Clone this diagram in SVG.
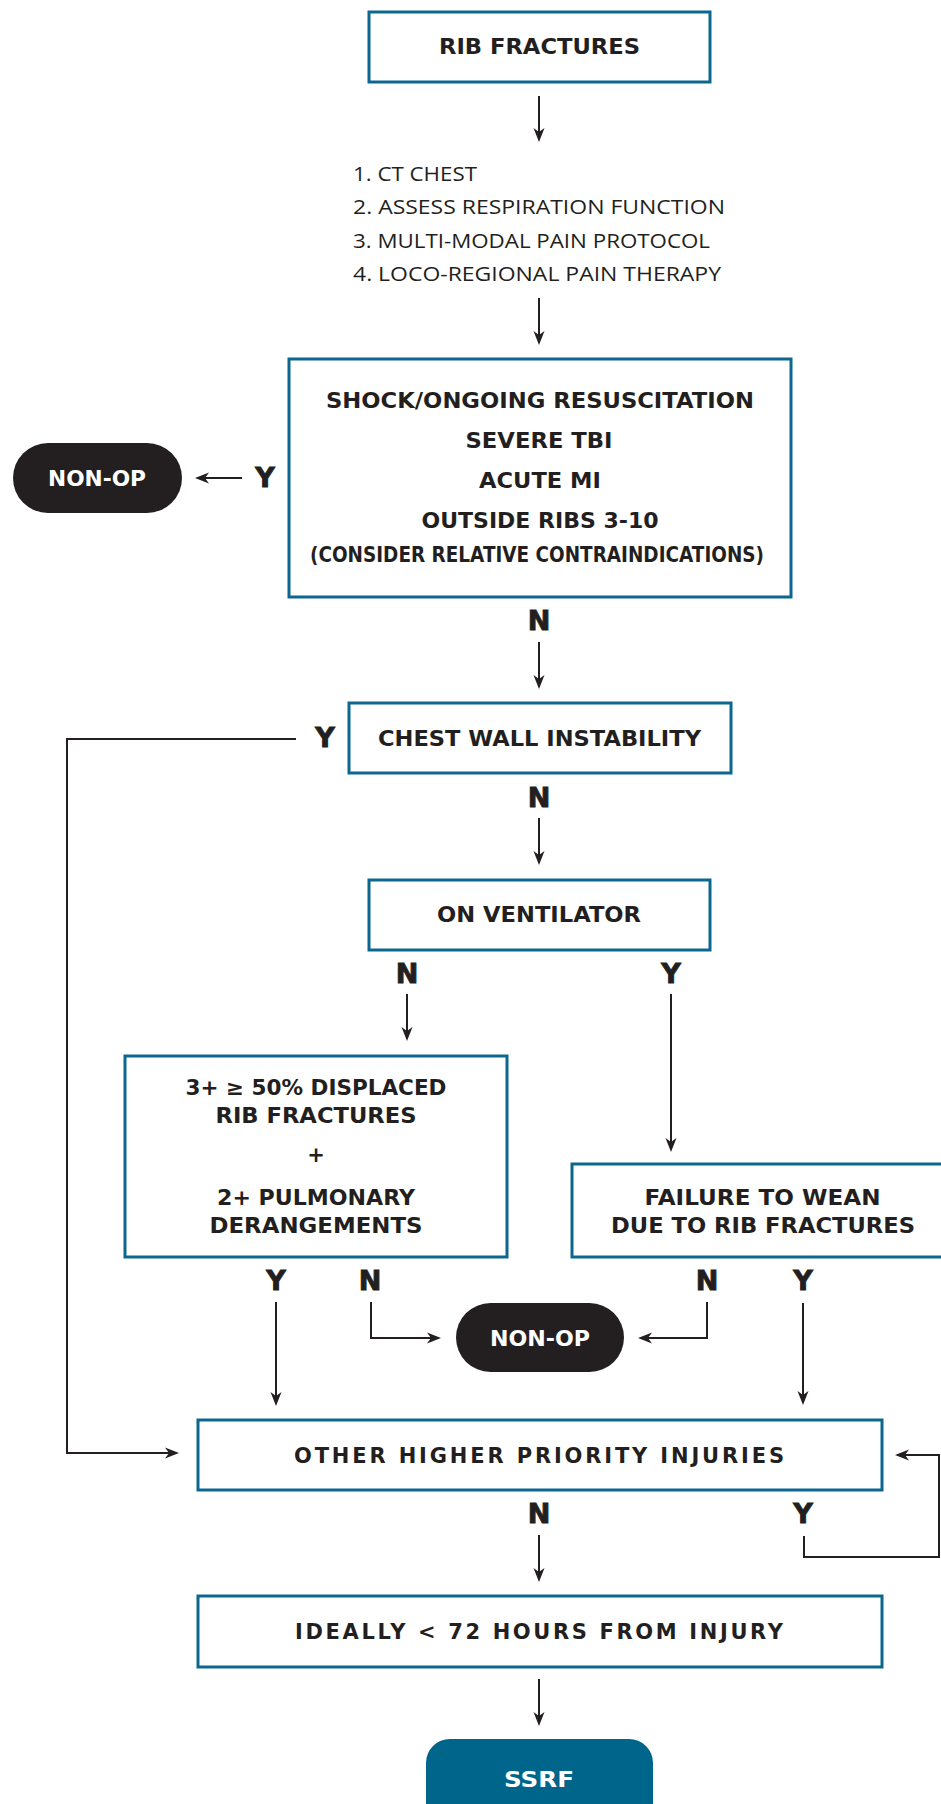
<svg xmlns="http://www.w3.org/2000/svg" width="941" height="1804" viewBox="0 0 941 1804">
<style>
.box{fill:#fff;stroke:#0b6790;stroke-width:3}
.pill{fill:#231f20}
.t{font-family:"DejaVu Sans","Liberation Sans",sans-serif;font-weight:bold;font-size:21px;fill:#231f20;text-anchor:middle}
.w{fill:#fff}
.l{font-family:"Open Sans","Liberation Sans",sans-serif;font-weight:400;font-size:20px;fill:#231f20}
.yn{font-family:"DejaVu Sans","Liberation Sans",sans-serif;font-weight:900;font-size:27px;fill:#231f20;stroke:#231f20;stroke-width:0.9;text-anchor:middle}
.c{fill:none;stroke:#231f20;stroke-width:2}
</style>
<defs>
<marker id="ah" markerUnits="userSpaceOnUse" viewBox="-7 -6 16 12" markerWidth="16" markerHeight="12" refX="0" refY="0" orient="auto">
<path d="M8,0 L-6,-5.5 L-2,0 L-6,5.5 Z" fill="#231f20"/>
</marker>
</defs>
<rect width="941" height="1804" fill="#fff"/>
<g id="connectors">
<path class="c" marker-end="url(#ah)" d="M539,96 V134"/>
<path class="c" marker-end="url(#ah)" d="M539,298 V337"/>
<path class="c" marker-end="url(#ah)" d="M242,478 H203"/>
<path class="c" marker-end="url(#ah)" d="M539,642 V681"/>
<path class="c" marker-end="url(#ah)" d="M539,818 V857"/>
<path class="c" marker-end="url(#ah)" d="M407,994 V1033"/>
<path class="c" marker-end="url(#ah)" d="M671,994 V1144"/>
<path class="c" marker-end="url(#ah)" d="M276,1302 V1398"/>
<path class="c" marker-end="url(#ah)" d="M371,1302 V1338 H433"/>
<path class="c" marker-end="url(#ah)" d="M707,1302 V1338 H646"/>
<path class="c" marker-end="url(#ah)" d="M803,1303 V1397"/>
<path class="c" marker-end="url(#ah)" d="M296,739 H67 V1453 H171"/>
<path class="c" marker-end="url(#ah)" d="M804,1536 V1557 H939 V1455 H903"/>
<path class="c" marker-end="url(#ah)" d="M539,1535 V1574"/>
<path class="c" marker-end="url(#ah)" d="M539,1679 V1718"/>
</g>
<g id="labels">
<text class="yn" x="265" y="487">Y</text>
<text class="yn" x="539" y="630">N</text>
<text class="yn" x="325" y="747">Y</text>
<text class="yn" x="539" y="807">N</text>
<text class="yn" x="407" y="983">N</text>
<text class="yn" x="671" y="983">Y</text>
<text class="yn" x="276" y="1290">Y</text>
<text class="yn" x="370" y="1290">N</text>
<text class="yn" x="707" y="1290">N</text>
<text class="yn" x="803" y="1290">Y</text>
<text class="yn" x="539" y="1523">N</text>
<text class="yn" x="803" y="1523">Y</text>
</g>
<g id="rib-fractures">
<rect class="box" x="369" y="12" width="341" height="70"/>
<text class="t" x="539.5" y="54" font-size="21.5" textLength="201" lengthAdjust="spacingAndGlyphs">RIB FRACTURES</text>
</g>
<g id="initial-steps">
<text class="l" x="353" y="181" textLength="124" lengthAdjust="spacingAndGlyphs">1. CT CHEST</text>
<text class="l" x="353" y="214" textLength="372" lengthAdjust="spacingAndGlyphs">2. ASSESS RESPIRATION FUNCTION</text>
<text class="l" x="353" y="248" textLength="357" lengthAdjust="spacingAndGlyphs">3. MULTI-MODAL PAIN PROTOCOL</text>
<text class="l" x="353" y="281" textLength="368" lengthAdjust="spacingAndGlyphs">4. LOCO-REGIONAL PAIN THERAPY</text>
</g>
<g id="contraindications">
<rect class="box" x="289" y="359" width="502" height="238"/>
<text class="t" x="540" y="408" font-size="20" textLength="428" lengthAdjust="spacingAndGlyphs">SHOCK/ONGOING RESUSCITATION</text>
<text class="t" x="539" y="448" font-size="20" textLength="147" lengthAdjust="spacingAndGlyphs">SEVERE TBI</text>
<text class="t" x="540" y="488" font-size="20" textLength="122" lengthAdjust="spacingAndGlyphs">ACUTE MI</text>
<text class="t" x="540" y="528" font-size="20" textLength="237" lengthAdjust="spacingAndGlyphs">OUTSIDE RIBS 3-10</text>
<text class="t" x="537" y="562" font-size="17" textLength="454" lengthAdjust="spacingAndGlyphs">(CONSIDER RELATIVE CONTRAINDICATIONS)</text>
</g>
<g id="non-op-1">
<rect class="pill" x="13" y="443" width="169" height="70" rx="35"/>
<text class="t w" x="97" y="486" font-size="19" textLength="98" lengthAdjust="spacingAndGlyphs">NON-OP</text>
</g>
<g id="chest-wall">
<rect class="box" x="349" y="703" width="382" height="70"/>
<text class="t" x="539.5" y="746" textLength="323" lengthAdjust="spacingAndGlyphs">CHEST WALL INSTABILITY</text>
</g>
<g id="ventilator">
<rect class="box" x="369" y="880" width="341" height="70"/>
<text class="t" x="539" y="922" textLength="204" lengthAdjust="spacingAndGlyphs">ON VENTILATOR</text>
</g>
<g id="displaced">
<rect class="box" x="125" y="1056" width="382" height="201"/>
<text class="t" x="316" y="1095" textLength="261" lengthAdjust="spacingAndGlyphs">3+ ≥ 50% DISPLACED</text>
<text class="t" x="316" y="1123" textLength="201" lengthAdjust="spacingAndGlyphs">RIB FRACTURES</text>
<text class="t" x="316" y="1162" font-size="16">+</text>
<text class="t" x="316" y="1205" textLength="198" lengthAdjust="spacingAndGlyphs">2+ PULMONARY</text>
<text class="t" x="316" y="1233" textLength="213" lengthAdjust="spacingAndGlyphs">DERANGEMENTS</text>
</g>
<g id="failure-wean">
<rect class="box" x="572" y="1164" width="380" height="93"/>
<text class="t" x="762.5" y="1205" textLength="236" lengthAdjust="spacingAndGlyphs">FAILURE TO WEAN</text>
<text class="t" x="763" y="1233" textLength="304" lengthAdjust="spacingAndGlyphs">DUE TO RIB FRACTURES</text>
</g>
<g id="non-op-2">
<rect class="pill" x="456" y="1303" width="168" height="69" rx="34.5"/>
<text class="t w" x="540" y="1346" font-size="19" textLength="100" lengthAdjust="spacingAndGlyphs">NON-OP</text>
</g>
<g id="other-injuries">
<rect class="box" x="198" y="1420" width="684" height="70"/>
<text class="t" x="540" y="1463" letter-spacing="2" textLength="492">OTHER HIGHER PRIORITY INJURIES</text>
</g>
<g id="ideally">
<rect class="box" x="198" y="1596" width="684" height="71"/>
<text class="t" x="540" y="1639" letter-spacing="2" textLength="490">IDEALLY &lt; 72 HOURS FROM INJURY</text>
</g>
<g id="ssrf">
<rect x="426" y="1739" width="227" height="110" rx="24" fill="#00658a"/>
<text class="t w" x="539" y="1787" font-size="23" textLength="70" lengthAdjust="spacingAndGlyphs">SSRF</text>
</g>
</svg>
